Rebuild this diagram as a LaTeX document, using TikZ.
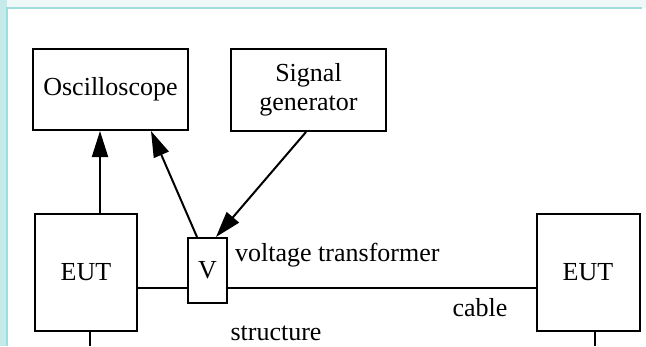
\documentclass[tikz,border=0pt]{standalone}
\usepackage{fontspec}
\setmainfont{Liberation Serif}
\usetikzlibrary{arrows.meta}
\definecolor{framecyan}{HTML}{9FDCDC}
\definecolor{palecyan}{HTML}{EEF8F8}
\definecolor{stripcyan}{HTML}{C4EAEA}
\begin{document}
\begin{tikzpicture}[x=1pt,y=-1pt,
  box/.style={draw=black,line width=2pt,fill=white,inner sep=0pt,align=center,
    font=\fontsize{26}{29}\selectfont},
  lbl/.style={inner sep=0pt,font=\fontsize{26}{29}\selectfont},
  wire/.style={line width=2pt},
  arr/.style={line width=2pt,-{Triangle[length=26pt,width=16pt]}}]
\useasboundingbox (0,0) rectangle (646,346);
% frame
\fill[palecyan] (0,0) rectangle (646,346);
\fill[stripcyan] (0,0) rectangle (7,346);
\fill[white] (7,8) rectangle (646,346);
\draw[framecyan,line width=1.2pt] (7,346) -- (7,8) -- (642,8);
% boxes
\node[box,minimum width=155pt,minimum height=81pt] (osc) at (110.5,89.5) {Oscilloscope};
\node[box,minimum width=155pt,minimum height=82pt] (sig) at (308.5,90) {Signal\\generator};
\node[box,minimum width=102pt,minimum height=117pt] (eutL) at (86,272.5) {EUT};
\node[box,minimum width=39pt,minimum height=65pt] (V) at (207.5,270.5) {V};
\node[box,minimum width=103pt,minimum height=117pt] (eutR) at (588,272.5) {EUT};
% labels
\node[lbl,anchor=west] (vt) at (235,255) {voltage transformer};
\node[lbl] (cab) at (480,308) {cable};
\node[lbl] (str) at (276,333.5) {structure};
% connectors
\draw[wire] (eutL.east |- 0,288) -- (V.west |- 0,288);
\draw[wire] (V.east |- 0,288) -- (eutR.west |- 0,288);
\draw[arr] ([xshift=14pt]eutL.north) -- ([xshift=14pt]eutL.north |- osc.south);
\draw[arr] ([xshift=10pt]V.north west) -- ([xshift=119pt]osc.south west);
\draw[arr] ([xshift=76pt]sig.south west) -- ([xshift=29pt]V.north west);
\coordinate (bl) at (90,346);
\coordinate (br) at (595,346);
\draw[wire] (eutL.south -| bl) -- (bl);
\draw[wire] (eutR.south -| br) -- (br);
\end{tikzpicture}
\end{document}
